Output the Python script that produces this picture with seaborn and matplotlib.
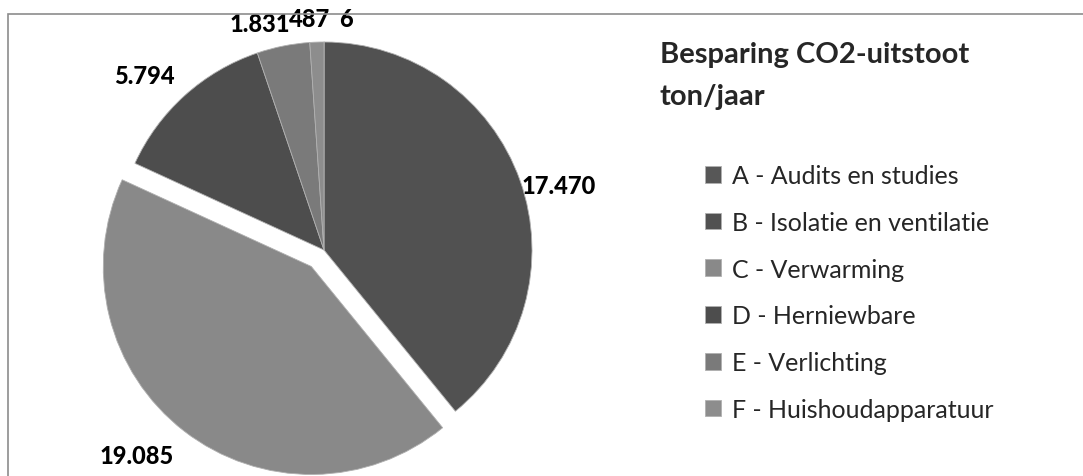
import matplotlib
matplotlib.use("Agg")
import matplotlib.pyplot as plt
import seaborn as sns
from matplotlib.patches import Rectangle

# data
categories = ["A - Audits en studies", "B - Isolatie en ventilatie", "C - Verwarming",
              "D - Herniewbare", "E - Verlichting", "F - Huishoudapparatuur"]
besparing = [6, 17470, 19085, 5794, 1831, 487]
explode = [0, 0, 0.1, 0, 0, 0]
colors = ["#575757", "#515151", "#898989", "#4d4d4d", "#7a7a7a", "#8d8d8d"]

sns.set_theme(style="white")
plt.rcParams['font.family'] = ['Lato', 'DejaVu Sans']

fig = plt.figure(figsize=(10.83, 4.77), dpi=100)

# gray chart border (cut off at right and bottom like the source)
fig.patches.append(Rectangle((8 / 1083, -0.1), 1.2, 1 - 15 / 477 + 0.1,
                             transform=fig.transFigure, fill=False,
                             edgecolor="#8c8c8c", linewidth=1.2))

ax = fig.add_axes([74.4 / 1083, -23.6 / 477, 499.2 / 1083, 499.2 / 477])
labels = [f"{v:,}".replace(",", ".") for v in besparing]
wedges, texts = ax.pie(besparing, labels=labels, colors=colors, explode=explode,
                       startangle=90, counterclock=False, labeldistance=1.14,
                       wedgeprops=dict(linewidth=0.6, edgecolor="#b0b0b0"),
                       textprops=dict(fontsize=17, fontweight="black", color="black"))
ax.set_xlim(-1.2, 1.2)
ax.set_ylim(-1.2, 1.2)
ax.set_aspect("equal")
ax.axis("off")

# label placement like the original
texts[1].set_ha("left")
texts[1].set_position((0.95, 0.31))
texts[2].set_ha("right")
texts[2].set_position((-0.72, -0.99))
texts[3].set_ha("right")
texts[3].set_position((-0.72, 0.84))
texts[4].set_ha("right")
texts[4].set_position((-0.165, 1.09))
texts[5].set_ha("center")
texts[5].set_position((-0.07, 1.115))
texts[0].set_ha("left")
texts[0].set_position((0.075, 1.115))

fig.text(660 / 1083, 1 - 42 / 477, "Besparing CO2-uitstoot\nton/jaar", fontsize=21,
         fontweight="bold", va="top", ha="left", linespacing=1.77)

fig.legend(wedges, categories, loc="upper left", bbox_to_anchor=(695 / 1083, 1 - 155 / 477),
           frameon=False, fontsize=18, handlelength=0.65, handleheight=0.65,
           labelspacing=0.95, handletextpad=0.45, borderaxespad=0)

fig.savefig("out.png", dpi=100)
